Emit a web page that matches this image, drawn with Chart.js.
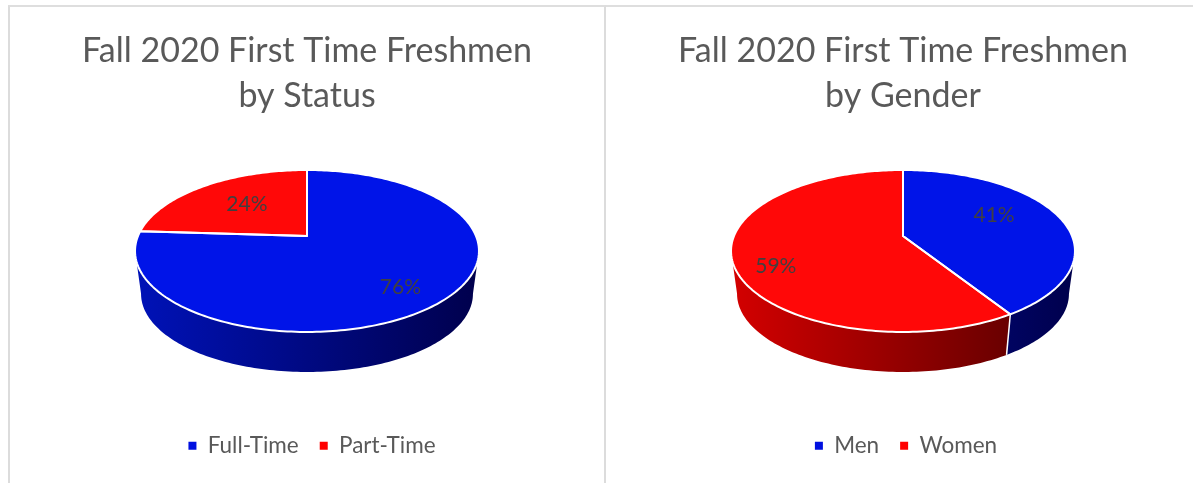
<!DOCTYPE html>
<html lang="en">
<head>
  <meta charset="UTF-8" />
  <title>Fall 2020 First Time Freshmen</title>
  <script src="https://cdn.jsdelivr.net/npm/chart.js"></script>
  <style>
    html, body { margin: 0; padding: 0; background: #fff; overflow: hidden; }
    #page { position: relative; width: 1193px; height: 483px; overflow: hidden; }
    .panel { position: absolute; top: 5px; height: 478px; border-top: 2px solid #dedede; box-sizing: border-box; }
    #statusPanel { left: 8px; width: 598px; border-left: 2px solid #dcdcdc; border-right: 2px solid #dcdcdc; }
    #genderPanel { left: 606px; width: 594px; }
    canvas { display: block; }
  </style>
</head>
<body>
  <div id="page">
    <div class="panel" id="statusPanel"><canvas id="statusChart"></canvas></div>
    <div class="panel" id="genderPanel"><canvas id="genderChart"></canvas></div>
  </div>

  <script>
    const statusTitle = ["Fall 2020 First Time Freshmen", "by Status"];
    const statusLabels = ["Full-Time", "Part-Time"];
    const statusValues = [76, 24];

    const genderTitle = ["Fall 2020 First Time Freshmen", "by Gender"];
    const genderLabels = ["Men", "Women"];
    const genderValues = [41, 59];

    // look of the slices: top face, then left and right end of the side gradient
    const blue = { top: "#0014e8", left: "#0012b8", right: "#00004c", legend: "#0010e0" };
    const red = { top: "#ff0808", left: "#d40000", right: "#500000", legend: "#ff0000" };

    // perspective of the tilted disc, all relative to the library's radius
    const RADIUS = 100;
    const APEX_Y = 229; // panel sits 7px down the page
    const KX = 1.69, KY = 0.782, PERSP = 0.185;
    const DEPTH = 43.4, BOTTOM_SCALE = 0.965;
    // side wall runs between the two widest points of the rim
    const FRONT_FROM = Math.asin(PERSP), FRONT_TO = Math.PI - Math.asin(PERSP);

    function project(arc, phi, r, bottom) {
      const s = bottom ? BOTTOM_SCALE : 1;
      const d = 1 - PERSP * r * Math.sin(phi);
      return {
        x: arc.x + s * KX * arc.outerRadius * r * Math.cos(phi) / d,
        y: APEX_Y + (bottom ? DEPTH : 0) + s * KY * arc.outerRadius * r * Math.sin(phi) / d,
      };
    }

    function traceRim(ctx, arc, from, to, bottom) {
      const steps = Math.max(2, Math.ceil(Math.abs(to - from) / 0.02));
      for (let i = 0; i <= steps; i++) {
        const p = project(arc, from + (to - from) * i / steps, 1, bottom);
        ctx.lineTo(p.x, p.y);
      }
    }

    const disc3d = {
      id: "disc3d",
      afterLayout(chart) {
        // legend is not quite centred in the original
        const dx = chart.options.plugins.disc3d.legendShift;
        chart.legend.left += dx;
        chart.legend.right += dx;
      },
      beforeDatasetDraw(chart) {
        const { ctx } = chart;
        const arcs = chart.getDatasetMeta(0).data;
        const looks = chart.options.plugins.disc3d.looks;
        const cx = arcs[0].x, half = KX * arcs[0].outerRadius * 1.02;

        ctx.save();
        arcs.forEach((arc, i) => {
          const from = Math.max(arc.startAngle, FRONT_FROM);
          const to = Math.min(arc.endAngle, FRONT_TO);
          if (to <= from) return;
          const g = ctx.createLinearGradient(cx - half, 0, cx + half, 0);
          g.addColorStop(0, looks[i].left);
          g.addColorStop(1, looks[i].right);
          ctx.beginPath();
          traceRim(ctx, arc, from, to, false);
          traceRim(ctx, arc, to, from, true);
          ctx.closePath();
          ctx.fillStyle = g;
          ctx.fill();
        });
        // white seam between two slices on the side wall
        arcs.forEach((arc) => {
          if (arc.endAngle <= FRONT_FROM || arc.endAngle >= FRONT_TO) return;
          const a = project(arc, arc.endAngle, 1, false);
          const b = project(arc, arc.endAngle, 1, true);
          ctx.beginPath();
          ctx.moveTo(a.x, a.y);
          ctx.lineTo(b.x, b.y);
          ctx.strokeStyle = "#fff";
          ctx.lineWidth = 1.5;
          ctx.stroke();
        });
        arcs.forEach((arc, i) => {
          const apex = project(arc, 0, 0, false);
          ctx.beginPath();
          ctx.moveTo(apex.x, apex.y);
          traceRim(ctx, arc, arc.startAngle, arc.endAngle, false);
          ctx.closePath();
          ctx.fillStyle = looks[i].top;
          ctx.fill();
        });
        arcs.forEach((arc) => {
          const apex = project(arc, 0, 0, false);
          ctx.beginPath();
          ctx.moveTo(apex.x, apex.y);
          traceRim(ctx, arc, arc.startAngle, arc.endAngle, false);
          ctx.closePath();
          ctx.strokeStyle = "#fff";
          ctx.lineWidth = 2;
          ctx.lineJoin = "round";
          ctx.stroke();
        });
        ctx.restore();
        return false;
      },
      afterDatasetsDraw(chart) {
        const { ctx } = chart;
        const nudges = chart.options.plugins.disc3d.nudges;
        const values = chart.data.datasets[0].data;
        ctx.save();
        ctx.font = "21px Lato";
        ctx.fillStyle = "#404040";
        ctx.textAlign = "center";
        ctx.textBaseline = "middle";
        chart.getDatasetMeta(0).data.forEach((arc, i) => {
          const p = project(arc, (arc.startAngle + arc.endAngle) / 2, 0.65, false);
          ctx.fillText(values[i] + "%", p.x + nudges[i][0], p.y + nudges[i][1]);
        });
        ctx.restore();
      },
    };

    function makePie(id, title, labels, values, looks, nudges, legendShift) {
      return new Chart(document.getElementById(id), {
        type: "pie",
        data: {
          labels: labels,
          datasets: [{
            data: values,
            radius: RADIUS,
            backgroundColor: looks.map((l) => l.legend),
            borderWidth: 0,
          }],
        },
        options: {
          responsive: false,
          animation: false,
          layout: { padding: { bottom: 16 } },
          plugins: {
            disc3d: { looks: looks, nudges: nudges, legendShift: legendShift },
            tooltip: { enabled: false },
            title: {
              display: true,
              text: title,
              color: "#595959",
              font: { family: "Lato", size: 34, weight: "normal", lineHeight: 1.33 },
              padding: { top: 21, bottom: 10 },
            },
            legend: {
              position: "bottom",
              labels: {
                color: "#595959",
                font: { family: "Lato", size: 22.5 },
                usePointStyle: true,
                pointStyle: "rect",
                boxWidth: 8,
                boxHeight: 8,
                padding: 21,
              },
            },
          },
        },
        plugins: [disc3d],
      });
    }

    const sizes = { statusChart: [594, 476], genderChart: [594, 476] };
    for (const id in sizes) {
      const c = document.getElementById(id);
      c.width = sizes[id][0];
      c.height = sizes[id][1];
      c.style.width = sizes[id][0] + "px";
      c.style.height = sizes[id][1] + "px";
    }

    makePie("statusChart", statusTitle, statusLabels, statusValues, [blue, red], [[11, 11], [9, 2]], 5);
    makePie("genderChart", genderTitle, genderLabels, genderValues, [blue, red], [[-11, -7], [-18, 16]], 3);
  </script>
</body>
</html>
